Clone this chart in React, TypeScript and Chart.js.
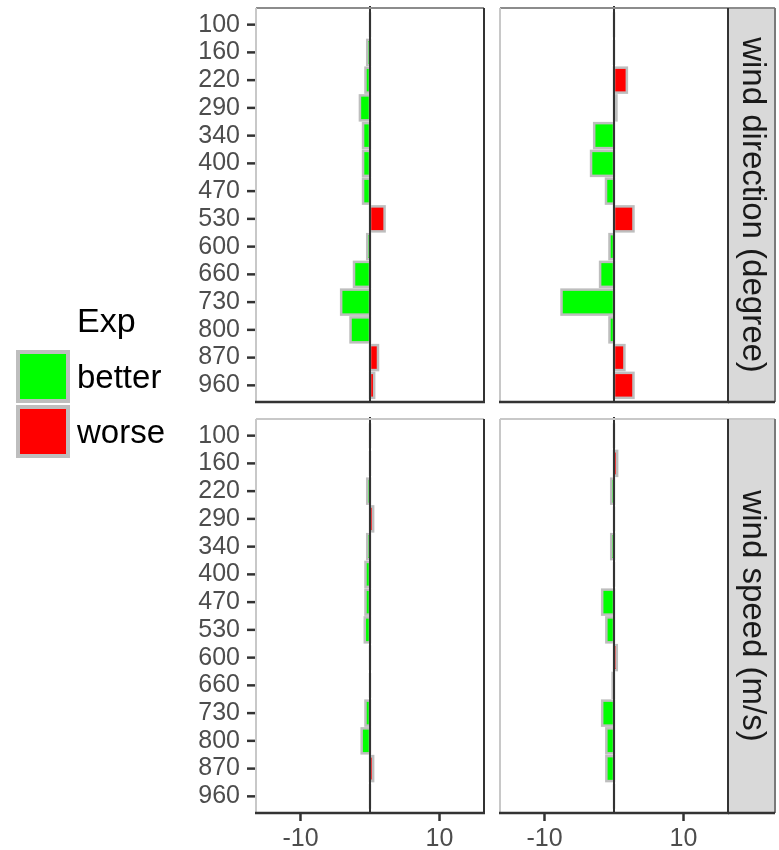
import React, { useEffect, useRef } from "react";
import { Chart, registerables } from "chart.js";

Chart.register(...registerables);

// Categories (y) shared by all facets
const heights = ["100", "160", "220", "290", "340", "400", "470", "530", "600", "660", "730", "800", "870", "960"];

// Facet rows and their strip labels
const rowLabels = ["wind direction (degree)", "wind speed (m/s)"];

// Differences per facet: [row][column]
const dirCol1 = [null, -0.4, -0.65, -1.45, -1.0, -1.0, -1.0, 2.1, -0.4, -2.3, -4.15, -2.8, 1.15, 0.6];
const dirCol2 = [null, null, 1.85, 0.35, -2.85, -3.3, -1.15, 2.8, -0.65, -2.0, -7.55, -0.65, 1.5, 2.8];
const spdCol1 = [null, null, -0.4, 0.45, -0.4, -0.65, -0.65, -0.75, null, null, -0.65, -1.2, 0.45, null];
const spdCol2 = [null, 0.45, -0.4, null, -0.4, null, -1.7, -1.1, 0.4, -0.2, -1.7, -1.1, -1.1, null];

// Legend levels and fills
const expLevels = ["better", "worse"];
const expColors = ["#00FF00", "#FF0000"];

// Horizontal axis
const xTicks = [-10, 10];
const xMin = -16.4;
const xMax = 16.4;

const FONT = "'Liberation Sans', Arial, Helvetica, sans-serif";
const W = 779;
const H = 850;

// Facet geometry
const PANEL_LEFT = [256, 500];
const PANEL_W = 228;
const PANEL_TOP = [8, 419];
const PANEL_H = 394;
const STRIP_W = 47;
const EXPAND = 0.6; // category expansion in units, like ggplot's discrete scale
const UNIT = PANEL_H / (heights.length - 1 + 2 * EXPAND);
const EXTRA = (EXPAND - 0.5) * UNIT; // beyond Chart.js' own 0.5 offset

const expOf = (v: number) => (v > 0 ? "worse" : "better");
const fillOf = (v: number) => expColors[expLevels.indexOf(expOf(v))];

type PanelOpts = {
  showY: boolean;
  showX: boolean;
  strip: string | null;
  topDark: boolean;
};

const facetPlugin = {
  id: "facet",
  afterDatasetsDraw(chart: any, _args: any, opts: PanelOpts) {
    const ctx = chart.ctx as CanvasRenderingContext2D;
    const area = chart.chartArea;
    const top = area.top - EXTRA;
    const bottom = area.bottom + EXTRA;
    ctx.save();
    // grey outlines centred on the bar edges
    ctx.strokeStyle = "#BEBEBE";
    ctx.lineWidth = 2.5;
    const meta = chart.getDatasetMeta(0);
    meta.data.forEach((el: any) => {
      const p = el.getProps(["x", "y", "base", "height"], true);
      if (el.skip || !isFinite(p.x) || !isFinite(p.base)) return;
      const l = Math.min(p.x, p.base);
      const r = Math.max(p.x, p.base);
      ctx.strokeRect(l, p.y - p.height / 2, r - l, p.height);
    });
    // reference line at zero
    const z = chart.scales.x.getPixelForValue(0);
    ctx.strokeStyle = "#333333";
    ctx.lineWidth = 2;
    ctx.beginPath();
    ctx.moveTo(z, top - 2);
    ctx.lineTo(z, bottom);
    ctx.stroke();
    ctx.restore();
  },
  afterDraw(chart: any, _args: any, opts: PanelOpts) {
    const ctx = chart.ctx as CanvasRenderingContext2D;
    const area = chart.chartArea;
    const top = area.top - EXTRA;
    const bottom = area.bottom + EXTRA;
    const left = area.left;
    const right = area.right;
    const seg = (x1: number, y1: number, x2: number, y2: number, c: string, w: number) => {
      ctx.strokeStyle = c;
      ctx.lineWidth = w;
      ctx.beginPath();
      ctx.moveTo(x1, y1);
      ctx.lineTo(x2, y2);
      ctx.stroke();
    };
    ctx.save();
    // strip on the right of the panel
    if (opts.strip) {
      const sx = right;
      ctx.fillStyle = "#D9D9D9";
      ctx.fillRect(sx, top, STRIP_W, bottom - top);
      seg(sx, top, sx + STRIP_W, top, opts.topDark ? "#8C8C8C" : "#C8C8C8", 2);
      seg(sx + STRIP_W, top, sx + STRIP_W, bottom, "#7A7A7A", 2);
      seg(sx, bottom, sx + STRIP_W, bottom, "#333333", 2.5);
      ctx.fillStyle = "#1A1A1A";
      ctx.font = `33px ${FONT}`;
      ctx.textAlign = "center";
      ctx.textBaseline = "middle";
      ctx.translate(sx + STRIP_W / 2 + 1, (top + bottom) / 2);
      ctx.rotate(Math.PI / 2);
      ctx.fillText(opts.strip, 0, 0);
      ctx.setTransform(1, 0, 0, 1, 0, 0);
    }
    // panel frame
    seg(left, top, right, top, opts.topDark ? "#8C8C8C" : "#C8C8C8", 2);
    seg(left, top, left, bottom, "#C8C8C8", 2);
    seg(right, top, right, bottom + 1, "#333333", 2);
    seg(left - 1, bottom, right + 1, bottom, "#333333", 2.5);
    // tick marks
    if (opts.showY) {
      const ys = chart.scales.y;
      heights.forEach((_h, i) => {
        const py = ys.getPixelForValue(i);
        seg(left - 9, py, left - 1, py, "#333333", 2.5);
      });
    }
    if (opts.showX) {
      const xs = chart.scales.x;
      xTicks.forEach((v) => {
        const px = xs.getPixelForValue(v);
        seg(px, bottom + 1, px, bottom + 8, "#333333", 2.5);
      });
    }
    ctx.restore();
  },
};

function Panel(props: { values: (number | null)[]; row: number; col: number }) {
  const ref = useRef<HTMLCanvasElement>(null);
  const { values, row, col } = props;
  useEffect(() => {
    const showY = col === 0;
    const showX = row === 1;
    const areaTop = PANEL_TOP[row] + EXTRA;
    const areaBottom = PANEL_TOP[row] + PANEL_H - EXTRA;
    const yAxisW = 70;
    const xAxisH = H - areaBottom;
    const opts: PanelOpts = {
      showY,
      showX,
      strip: col === 1 ? rowLabels[row] : null,
      topDark: row === 0,
    };
    const chart = new Chart(ref.current!, {
      type: "bar",
      data: {
        labels: heights,
        datasets: [
          {
            label: "difference",
            data: values as any,
            backgroundColor: values.map((v) => (v == null ? "rgba(0,0,0,0)" : fillOf(v))),
            borderWidth: 0,
            barPercentage: 0.9,
            categoryPercentage: 1,
          },
        ],
      },
      options: {
        indexAxis: "y",
        responsive: false,
        animation: false,
        events: [],
        layout: {
          padding: {
            left: showY ? PANEL_LEFT[col] - yAxisW : PANEL_LEFT[col],
            right: W - (PANEL_LEFT[col] + PANEL_W),
            top: areaTop,
            bottom: showX ? 0 : H - areaBottom,
          },
        },
        scales: {
          x: {
            type: "linear",
            display: showX,
            min: xMin,
            max: xMax,
            afterBuildTicks: (scale: any) => {
              scale.ticks = xTicks.map((v) => ({ value: v }));
            },
            afterFit: (scale: any) => {
              scale.height = showX ? xAxisH : 0;
              scale.paddingLeft = 0;
              scale.paddingRight = 0;
            },
            grid: { display: false, drawTicks: false },
            border: { display: false },
            ticks: {
              padding: 14,
              color: "#4D4D4D",
              font: { family: FONT, size: 25 },
              maxRotation: 0,
              autoSkip: false,
            },
          },
          y: {
            type: "category",
            display: showY,
            offset: true,
            afterFit: (scale: any) => {
              scale.width = showY ? yAxisW : 0;
              scale.paddingTop = 0;
              scale.paddingBottom = 0;
            },
            grid: { display: false, drawTicks: false },
            border: { display: false },
            ticks: {
              padding: 16,
              color: "#4D4D4D",
              font: { family: FONT, size: 25 },
              autoSkip: false,
            },
          },
        },
        plugins: {
          legend: { display: false },
          title: { display: false },
          tooltip: { enabled: false },
          facet: opts as any,
        } as any,
      },
      plugins: [facetPlugin as any],
    });
    return () => chart.destroy();
  }, []);
  return (
    <canvas
      ref={ref}
      width={W}
      height={H}
      style={{ position: "absolute", left: 0, top: 0, width: W, height: H }}
    />
  );
}

function Legend() {
  const keyTop = [350, 405];
  return (
    <div style={{ position: "absolute", left: 0, top: 0, fontFamily: FONT, color: "#000" }}>
      <div style={{ position: "absolute", left: 77, top: 302, fontSize: 34, lineHeight: "36px", whiteSpace: "nowrap" }}>
        Exp
      </div>
      {expLevels.map((lvl, i) => (
        <React.Fragment key={lvl}>
          <div
            style={{
              position: "absolute",
              left: 16,
              top: keyTop[i],
              width: 54,
              height: 53,
              boxSizing: "border-box",
              border: "4px solid #BEBEBE",
              background: expColors[i],
            }}
          />
          <div
            style={{
              position: "absolute",
              left: 77,
              top: keyTop[i] + 8,
              fontSize: 33,
              lineHeight: "38px",
              whiteSpace: "nowrap",
            }}
          >
            {lvl}
          </div>
        </React.Fragment>
      ))}
    </div>
  );
}

export default function App() {
  return (
    <div style={{ position: "absolute", left: 0, top: 0, width: W, height: H, background: "#FFFFFF", overflow: "hidden" }}>
      <Panel values={dirCol1} row={0} col={0} />
      <Panel values={dirCol2} row={0} col={1} />
      <Panel values={spdCol1} row={1} col={0} />
      <Panel values={spdCol2} row={1} col={1} />
      <Legend />
    </div>
  );
}
